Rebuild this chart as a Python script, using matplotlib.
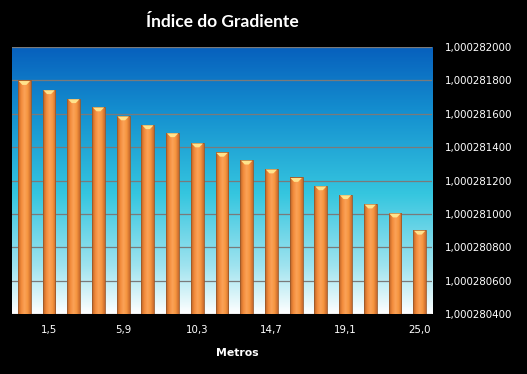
import numpy as np
import matplotlib
matplotlib.use("Agg")
import matplotlib.pyplot as plt
from matplotlib.colors import LinearSegmentedColormap
from matplotlib.ticker import FuncFormatter

# --- data ----------------------------------------------------------------------
metros = ["0,0", "1,5", "2,9", "4,4", "5,9", "7,3", "8,8", "10,3", "11,7",
          "13,2", "14,7", "16,1", "17,6", "19,1", "20,5", "22,0", "25,0"]
indice = [1.000281800, 1.000281745, 1.000281691, 1.000281642, 1.000281588,
          1.000281535, 1.000281487, 1.000281426, 1.000281370, 1.000281323,
          1.000281270, 1.000281219, 1.000281169, 1.000281116, 1.000281060,
          1.000281006, 1.000280903]
y_ticks = [1.0002804 + i * 0.0000002 for i in range(9)]

# --- figure --------------------------------------------------------------------
fig = plt.figure(figsize=(5.27, 3.74), dpi=100, facecolor="black")
ax = fig.add_axes([12 / 527, 1 - 314 / 374, 420 / 527, 267 / 374])
ax.set_facecolor("white")

x = np.arange(len(metros))
ymin, ymax = y_ticks[0], y_ticks[-1]
ax.set_xlim(-0.5, len(metros) - 0.5)
ax.set_ylim(ymin, ymax)

# plot area gradient (blue top -> cyan -> white bottom)
bg = LinearSegmentedColormap.from_list(
    "bg", [(0.0, "#ffffff"), (0.18, "#9fe3ef"), (0.45, "#35c6df"),
           (0.75, "#1591d0"), (1.0, "#0760bd")])
grad = np.linspace(0, 1, 256).reshape(-1, 1)
ax.imshow(grad, cmap=bg, origin="lower", aspect="auto", interpolation="bilinear",
          extent=[-0.5, len(metros) - 0.5, ymin, ymax], zorder=0)

# gridlines
for t in y_ticks:
    ax.axhline(t, color="#7a7a7a", linewidth=0.9, zorder=1)

# bars with a horizontal cylinder-like shading
bar_cm = LinearSegmentedColormap.from_list(
    "barshade", ["#b8612a", "#f28b3a", "#fba258", "#f7963f", "#c8692c"])
hshade = np.linspace(0, 1, 64).reshape(1, -1)
w = 0.52
bars = ax.bar(x, [v - ymin for v in indice], bottom=ymin, width=w,
              color="none", edgecolor="#9c5a2a", linewidth=0.6, zorder=3)
h = (ymax - ymin) * 0.017
for b, v in zip(bars, indice):
    im = ax.imshow(hshade, cmap=bar_cm, aspect="auto", interpolation="bilinear",
                   extent=[b.get_x(), b.get_x() + w, ymin, v], zorder=2)
    im.set_clip_path(b)
    # bevel highlight on top
    cx = b.get_x() + w / 2
    ax.fill([b.get_x() + 0.03, b.get_x() + w - 0.03, cx + 0.08, cx - 0.08],
            [v - h * 0.15, v - h * 0.15, v - h, v - h], color="#ffe38c",
            zorder=4, linewidth=0)

for s in ax.spines.values():
    s.set_visible(False)

# axes labels and ticks
ax.yaxis.tick_right()
ax.set_yticks(y_ticks)
ax.yaxis.set_major_formatter(FuncFormatter(lambda v, p: f"{v:.9f}".replace(".", ",")))
ax.set_xticks(x[1::3])
ax.set_xticklabels(metros[1::3])
ax.tick_params(axis="both", length=0, colors="white", labelsize=7.4)
ax.tick_params(axis="y", pad=9.5)
ax.tick_params(axis="x", pad=8)

fig.text(222 / 527, 1 - 22 / 374, "Índice do Gradiente", color="white",
         fontsize=12.5, fontweight="bold", family="Lato", ha="center", va="center")
fig.text(237 / 527, 1 - 353 / 374, "Metros", color="white",
         fontsize=7.8, fontweight="bold", ha="center", va="center")

fig.savefig("out.png", dpi=100, facecolor="black")
